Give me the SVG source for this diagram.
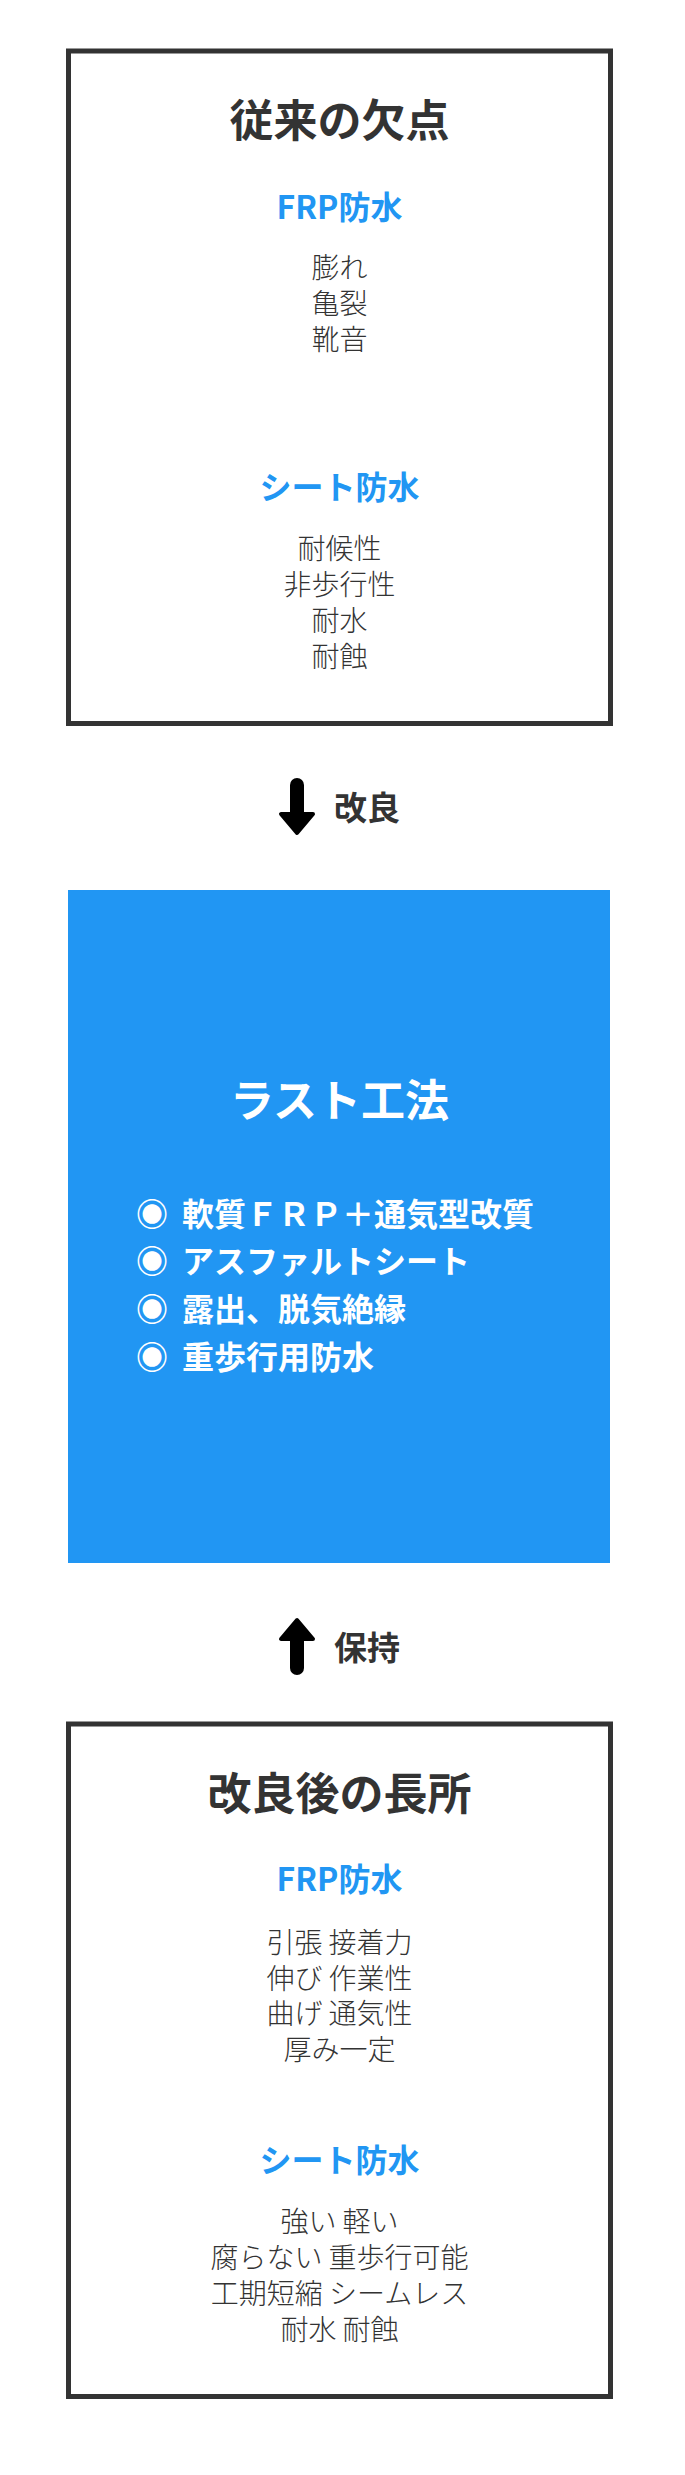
<svg xmlns="http://www.w3.org/2000/svg" width="685" height="2475" viewBox="0 0 685 2475">
<style>
text{font-family:"Noto Sans CJK JP","Noto Sans CJK SC",sans-serif;text-anchor:middle}
.frame{fill:#fff;stroke:#333;stroke-width:5}
.title{font-size:44px;font-weight:700;fill:#333}
.sub{font-size:32px;font-weight:700;fill:#2196F3}
.body{font-size:28px;font-weight:300;fill:#333}
.wtitle{font-size:44px;font-weight:700;fill:#fff}
.bul{font-size:32px;font-weight:700;fill:#fff;text-anchor:start}
.lab{font-size:33px;font-weight:700;fill:#333;text-anchor:start}
.arr{fill:#000;stroke:#000;stroke-width:4;stroke-linejoin:round}
</style>
<rect width="685" height="2475" fill="#fff"/>
<g id="n1">
<rect class="frame" x="68.5" y="51" width="542" height="672.5"/>
<text class="title" x="339.5" y="137">従来の欠点</text>
<text class="sub" x="339.5" y="219">FRP防水</text>
<text class="body" x="339.5" y="277.5">膨れ</text>
<text class="body" x="339.5" y="313.5">亀裂</text>
<text class="body" x="339.5" y="349.5">靴音</text>
<text class="sub" x="339.5" y="499">シート防水</text>
<text class="body" x="339.5" y="559">耐候性</text>
<text class="body" x="339.5" y="595">非歩行性</text>
<text class="body" x="339.5" y="631">耐水</text>
<text class="body" x="339.5" y="667">耐蝕</text>
</g>
<g id="n2">
<rect x="68" y="890" width="542" height="673" fill="#2196F3"/>
<text class="wtitle" x="339.5" y="1117">ラスト工法</text>
<text class="bul" y="1226"><tspan x="136">◉</tspan> <tspan x="182">軟質ＦＲＰ＋通気型改質</tspan></text>
<text class="bul" y="1273"><tspan x="136">◉</tspan> <tspan x="182">アスファルトシート</tspan></text>
<text class="bul" y="1321"><tspan x="136">◉</tspan> <tspan x="182">露出、脱気絶縁</tspan></text>
<text class="bul" y="1369"><tspan x="136">◉</tspan> <tspan x="182">重歩行用防水</tspan></text>
</g>
<g id="n3">
<rect class="frame" x="68.5" y="1724" width="542" height="672.5"/>
<text class="title" x="339.5" y="1810">改良後の長所</text>
<text class="sub" x="339.5" y="1890.5">FRP防水</text>
<text class="body" x="339.5" y="1952.5">引張 接着力</text>
<text class="body" x="339.5" y="1988.5">伸び 作業性</text>
<text class="body" x="339.5" y="2024">曲げ 通気性</text>
<text class="body" x="339.5" y="2060">厚み一定</text>
<text class="sub" x="339.5" y="2172">シート防水</text>
<text class="body" x="339.5" y="2231.5">強い 軽い</text>
<text class="body" x="339.5" y="2267.5">腐らない 重歩行可能</text>
<text class="body" x="339.5" y="2304">工期短縮 シームレス</text>
<text class="body" x="339.5" y="2340">耐水 耐蝕</text>
</g>
<g id="connectors">
<g id="c1">
<rect x="290" y="778" width="14" height="42" rx="7" fill="#000"/>
<path class="arr" d="M281,814 L313,814 L297,833 Z"/>
<text class="lab" x="334" y="820">改良</text>
</g>
<g id="c2">
<rect x="290" y="1633" width="14" height="42" rx="7" fill="#000"/>
<path class="arr" d="M281,1639 L313,1639 L297,1620 Z"/>
<text class="lab" x="334" y="1660">保持</text>
</g>
</g>
</svg>
